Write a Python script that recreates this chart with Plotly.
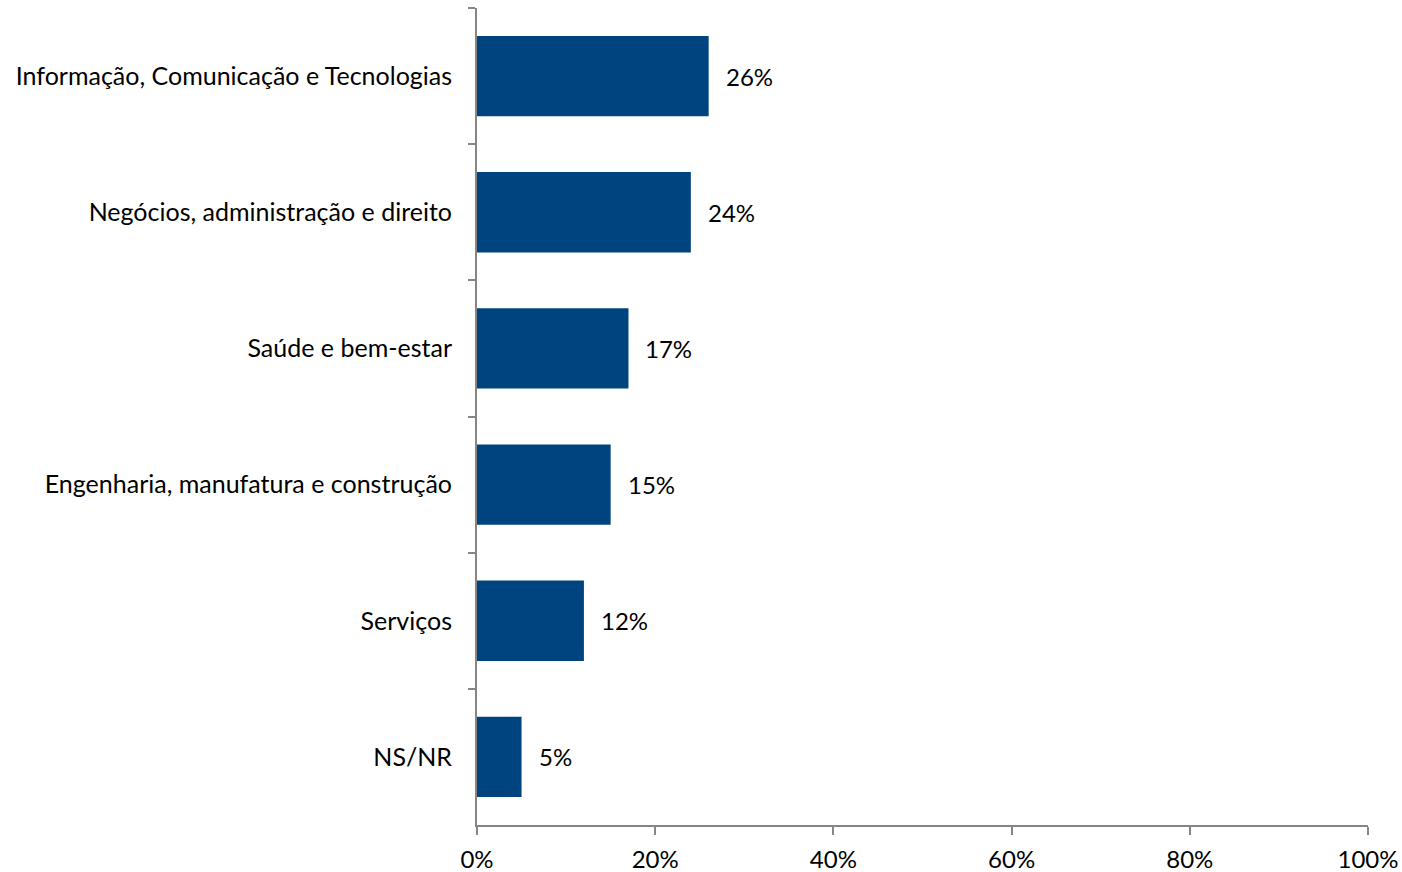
import plotly.graph_objects as go

categories = [
    "Informação, Comunicação e Tecnologias",
    "Negócios, administração e direito",
    "Saúde e bem-estar",
    "Engenharia, manufatura e construção",
    "Serviços",
    "NS/NR",
]
values = [0.26, 0.24, 0.17, 0.15, 0.12, 0.05]
labels = ["26%", "24%", "17%", "15%", "12%", "5%"]

FONT = "Lato"
BAR_COLOR = "#00447F"
AXIS_COLOR = "#868686"

fig = go.Figure()
fig.add_trace(go.Bar(
    x=values, y=categories, orientation="h",
    marker=dict(color=BAR_COLOR, line=dict(width=0)),
    hoverinfo="skip",
))
for c, v, t in zip(categories, values, labels):
    fig.add_annotation(x=v, y=c, text=t, showarrow=False, xanchor="left",
                       xshift=15, font=dict(family=FONT, size=24, color="#000000"))

fig.update_layout(
    width=1402, height=872,
    margin=dict(l=477, r=34, t=8, b=47),
    paper_bgcolor="white", plot_bgcolor="white",
    bargap=0.41, showlegend=False,
    font=dict(family=FONT, size=24, color="#000000"),
)
fig.update_xaxes(
    range=[0, 1], dtick=0.2, tickformat=".0%",
    showline=True, linecolor=AXIS_COLOR, linewidth=2,
    ticks="outside", ticklen=8, tickwidth=2, tickcolor=AXIS_COLOR,
    ticklabelstandoff=4,
    showgrid=False, zeroline=False, fixedrange=True, automargin=False,
    tickfont=dict(family=FONT, size=24, color="#000000"),
)
fig.update_yaxes(
    categoryorder="array", categoryarray=categories, range=[5.5, -0.5],
    showline=True, linecolor=AXIS_COLOR, linewidth=2,
    ticks="outside", ticklen=7, tickwidth=2, tickcolor=AXIS_COLOR,
    tickson="boundaries", ticklabelstandoff=18,
    showgrid=False, zeroline=False, fixedrange=True, automargin=False,
    tickfont=dict(family=FONT, size=25, color="#000000"),
)
fig.write_html(
    "out.html",
    config={"displayModeBar": False, "staticPlot": True},
    post_script=(
        "document.body.style.margin='0';"
        "document.body.style.overflow='hidden';"
        "document.documentElement.style.overflow='hidden';"
    ),
)
